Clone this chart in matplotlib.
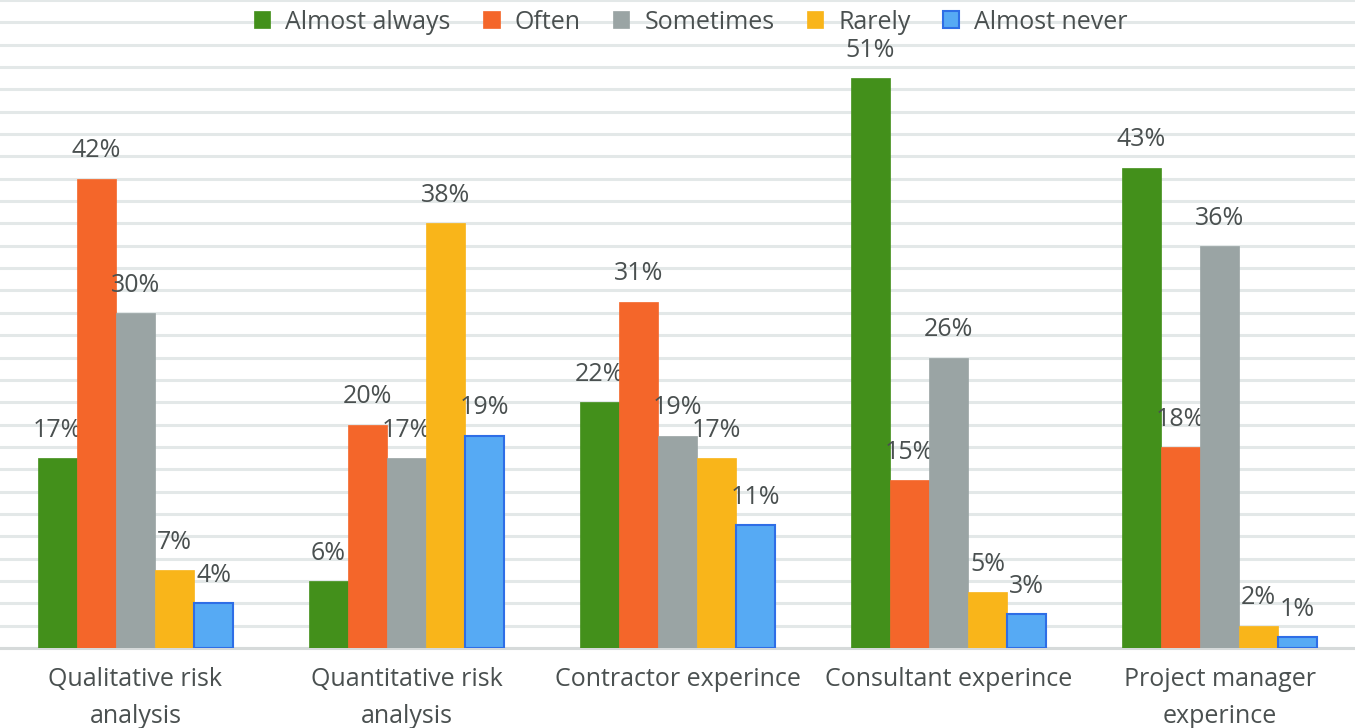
import matplotlib
matplotlib.use("Agg")
import matplotlib.pyplot as plt
import numpy as np

categories = [
    "Qualitative risk\nanalysis",
    "Quantitative risk\nanalysis",
    "Contractor experince",
    "Consultant experince",
    "Project manager\nexperince",
]
series = ["Almost always", "Often", "Sometimes", "Rarely", "Almost never"]
almost_always = [17, 6, 22, 51, 43]
often = [42, 20, 31, 15, 18]
sometimes = [30, 17, 19, 26, 36]
rarely = [7, 38, 17, 5, 2]
almost_never = [4, 19, 11, 3, 1]

colors = ["#43901b", "#f4662a", "#9aa4a4", "#f9b51a", "#56aaf4"]
edges = ["#43901b", "#f4662a", "#9aa4a4", "#f9b51a", "#2e6ee6"]
text_color = "#4a5050"

plt.rcParams["font.family"] = ["Open Sans", "DejaVu Sans"]
plt.rcParams["font.size"] = 18

fig = plt.figure(figsize=(13.55, 7.28), dpi=100)
ax = fig.add_axes([0, 80 / 728, 1, 648 / 728])

x = np.arange(len(categories))
width = 0.144
all_vals = [almost_always, often, sometimes, rarely, almost_never]
for i, (name, vals) in enumerate(zip(series, all_vals)):
    pos = x + (i - 2) * width
    bars = ax.bar(pos, vals, width, color=colors[i], edgecolor=edges[i],
                  linewidth=1.5 if i == 4 else 0.5, label=name, zorder=3)
    for b, v in zip(bars, vals):
        ax.annotate(f"{v}%", (b.get_x() + b.get_width() / 2, v),
                    xytext=(0, 11), textcoords="offset points",
                    ha="center", va="bottom", color=text_color, fontsize=18)

ax.set_xlim(-0.5, len(categories) - 0.5)
ax.set_ylim(0, 58)
ax.set_yticks(np.arange(0, 59, 2))
ax.yaxis.grid(True, color="#e3e8e8", linewidth=2.2, zorder=0)
ax.tick_params(axis="y", left=False, labelleft=False)
ax.tick_params(axis="x", length=0, pad=14, labelcolor=text_color)
ax.set_xticks(x)
ax.set_xticklabels(categories, linespacing=1.6)
for s in ["top", "right", "left"]:
    ax.spines[s].set_visible(False)
ax.spines["bottom"].set_color("#d6dada")
ax.spines["bottom"].set_linewidth(2.2)
ax.set_axisbelow(True)

leg = ax.legend(loc="upper center", bbox_to_anchor=(0.51, 1.02), ncol=5,
                frameon=False, handlelength=0.65, handleheight=0.65,
                handletextpad=0.6, columnspacing=1.3, fontsize=18)
for t in leg.get_texts():
    t.set_color(text_color)

fig.savefig("out.png", dpi=100)
